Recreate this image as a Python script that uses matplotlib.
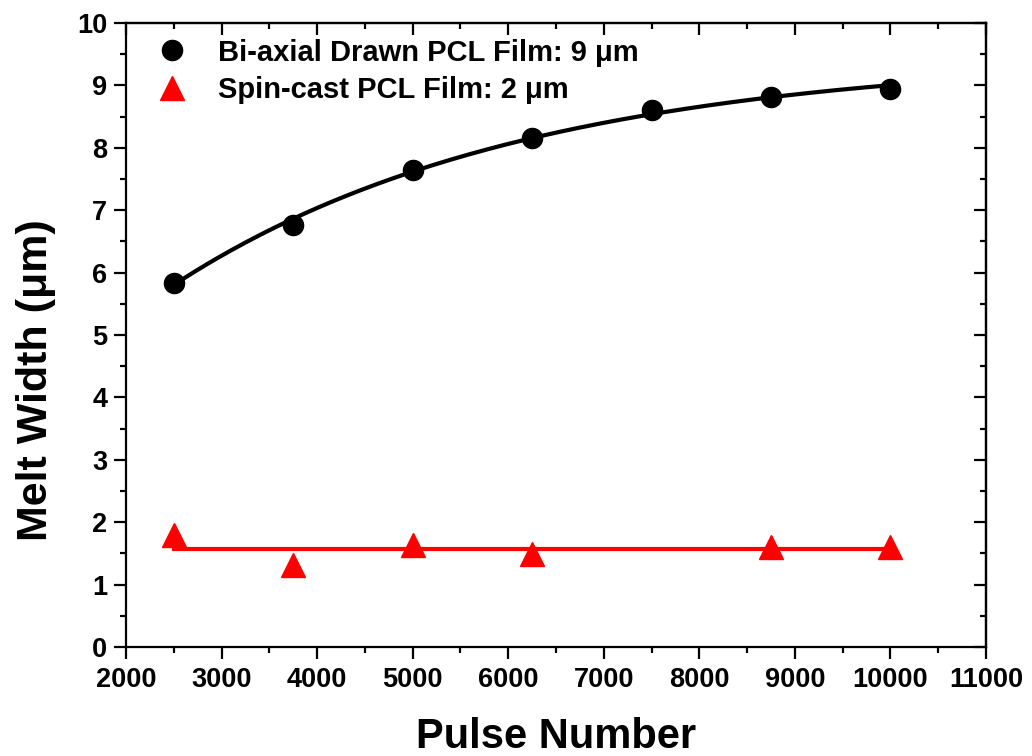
import numpy as np
import matplotlib
matplotlib.use("Agg")
import matplotlib.pyplot as plt
from matplotlib.ticker import MultipleLocator

plt.rcParams["font.family"] = ["Liberation Sans", "DejaVu Sans"]
plt.rcParams["font.weight"] = "bold"

# ── Data ──────────────────────────────────────────────────────────────────────
pulse_drawn = [2500, 3750, 5000, 6250, 7500, 8750, 10000]
width_drawn = [5.84, 6.77, 7.65, 8.16, 8.60, 8.82, 8.95]

pulse_spin = [2500, 3750, 5000, 6250, 8750, 10000]
width_spin = [1.79, 1.31, 1.63, 1.49, 1.60, 1.60]

label_drawn = "Bi-axial Drawn PCL Film: 9 \u03bcm"
label_spin = "Spin-cast PCL Film: 2 \u03bcm"

# ── Fits (exp. decay for drawn film, flat mean for spin-cast) ────────────────
xd = np.array(pulse_drawn, float)
yd = np.array(width_drawn, float)
best = None
for t in np.linspace(500, 20000, 400):
    A = np.column_stack([np.ones_like(xd), np.exp(-xd / t)])
    coef, *_ = np.linalg.lstsq(A, yd, rcond=None)
    err = np.sum((A @ coef - yd) ** 2)
    if best is None or err < best[0]:
        best = (err, t, coef)
_, tau, (a0, b0) = best
xfit = np.linspace(xd.min(), xd.max(), 200)
yfit = a0 + b0 * np.exp(-xfit / tau)

spin_mean = np.mean(width_spin)

# ── Plot ──────────────────────────────────────────────────────────────────────
fig = plt.figure(figsize=(10.32, 7.56), dpi=100)
ax = fig.add_axes([0.1221, 0.1442, 0.8333, 0.8254])

ax.plot(xfit, yfit, color="black", linewidth=3, zorder=2)
ax.plot([min(pulse_spin), max(pulse_spin)], [spin_mean, spin_mean],
        color="red", linewidth=3, zorder=2)
ax.plot(pulse_drawn, width_drawn, "o", color="black", markersize=14.5,
        label=label_drawn, zorder=3)
ax.plot(pulse_spin, width_spin, "^", color="red", markersize=17,
        label=label_spin, zorder=3)

ax.set_xlim(2000, 11000)
ax.set_ylim(0, 10)
ax.xaxis.set_major_locator(MultipleLocator(1000))
ax.xaxis.set_minor_locator(MultipleLocator(500))
ax.yaxis.set_major_locator(MultipleLocator(1))
ax.yaxis.set_minor_locator(MultipleLocator(0.5))

LW = 1.6
for s in ax.spines.values():
    s.set_linewidth(LW)

ax.tick_params(which="both", direction="out", width=LW, labelsize=19.5,
               bottom=True, left=True, top=False, right=False)
ax.tick_params(which="major", length=8.5)
ax.tick_params(which="minor", length=4.5)
ax.tick_params(axis="x", which="major", pad=6)
ax.tick_params(axis="y", which="major", pad=5)

# inward ticks on top and right
axt = ax.secondary_xaxis("top")
axt.xaxis.set_major_locator(MultipleLocator(1000))
axt.xaxis.set_minor_locator(MultipleLocator(500))
axt.tick_params(which="both", direction="in", width=LW, labeltop=False)
axt.tick_params(which="major", length=8.5)
axt.tick_params(which="minor", length=4.5)
axt.spines["top"].set_linewidth(LW)
axr = ax.secondary_yaxis("right")
axr.yaxis.set_major_locator(MultipleLocator(1))
axr.yaxis.set_minor_locator(MultipleLocator(0.5))
axr.tick_params(which="both", direction="in", width=LW, labelright=False)
axr.tick_params(which="major", length=8.5)
axr.tick_params(which="minor", length=4.5)
axr.spines["right"].set_linewidth(LW)

for lbl in ax.get_xticklabels() + ax.get_yticklabels():
    lbl.set_fontweight("bold")

ax.set_xlabel("Pulse Number", fontsize=30, fontweight="bold")
ax.xaxis.set_label_coords(0.5, -0.113)
ax.set_ylabel("Melt Width (\u03bcm)", fontsize=31, fontweight="bold")
ax.yaxis.set_label_coords(-0.081, 0.428)

leg = ax.legend(loc="upper left", bbox_to_anchor=(0.037, 0.975),
                frameon=False, fontsize=21, handlelength=1.0,
                handletextpad=1.05, borderaxespad=0, borderpad=0,
                labelspacing=0.34)
for t in leg.get_texts():
    t.set_fontweight("bold")

fig.savefig("out.png", dpi=100)
